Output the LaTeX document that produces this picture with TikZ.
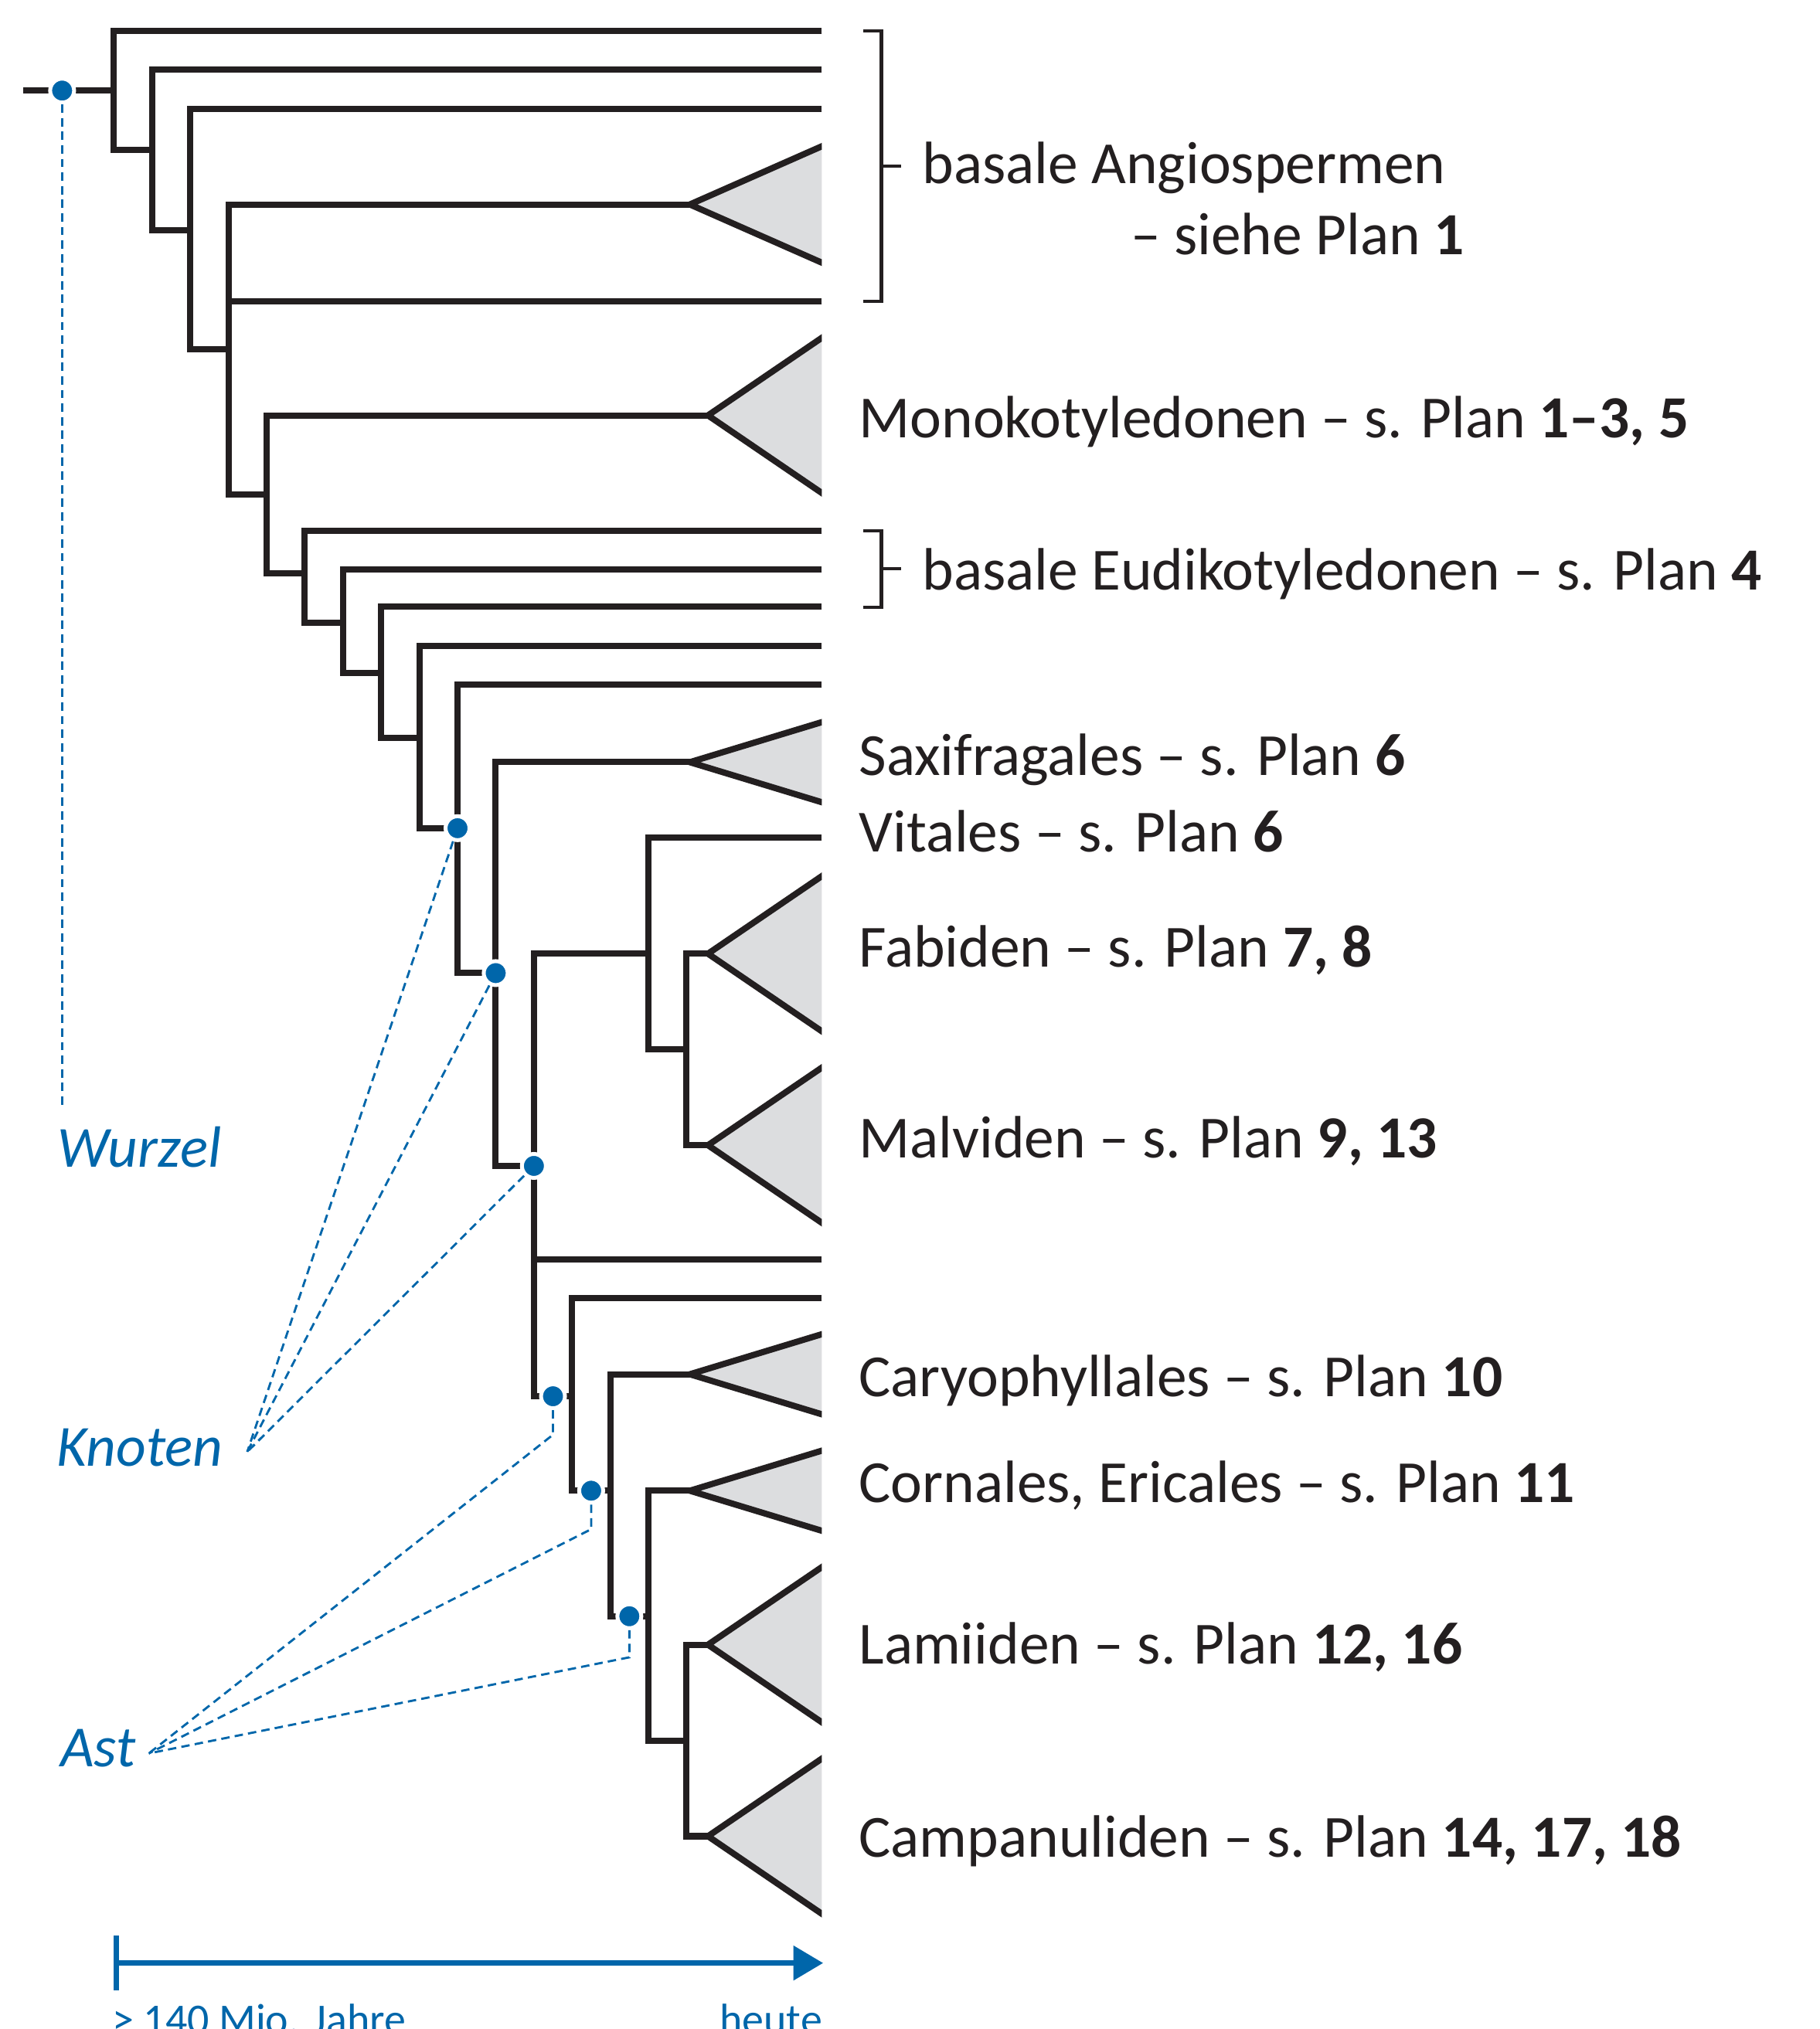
\documentclass[tikz,border=0pt]{standalone}
\usepackage{fontspec}
\setmainfont{Carlito}
\usepackage{tikz}
\usetikzlibrary{arrows.meta, calc, positioning}
\definecolor{treeink}{HTML}{231F20}
\definecolor{hintblue}{HTML}{0066AA}
\definecolor{cladegray}{HTML}{DCDDDF}

\begin{document}
\begin{tikzpicture}[
  x=0.1mm, y=-0.1mm,
  branch/.style={draw=treeink, line width=0.48mm, line join=miter},
  clade/.style={branch, fill=cladegray},
  dot/.style={circle, fill=hintblue, draw=white, line width=0.3mm,
              minimum size=1.85mm, inner sep=0pt},
  hint/.style={draw=hintblue, line width=0.17mm,
               dash pattern=on 0.65mm off 0.4mm},
  taxon/.style={anchor=base west, inner sep=0pt, text=treeink,
                font=\fontsize{13.15}{15}\selectfont},
  note/.style={anchor=base west, inner sep=0pt, text=hintblue,
               font=\fontsize{12.8}{15}\selectfont\itshape},
  brace/.style={draw=treeink, line width=0.25mm, line join=miter},
  timeline/.style={draw=hintblue, line width=0.42mm,
                   arrows={Bar[width=4.2mm]-Triangle[length=2.3mm, width=2.6mm]}},
  timetext/.style={inner sep=0pt, text=hintblue,
                   font=\fontsize{9.5}{11}\selectfont}
]
  \useasboundingbox (0,0) rectangle (1406,1568);

  % tips and apexes
  \coordinate (tRoot) at (18,70);
  \coordinate (tA1)   at (635,24);
  \coordinate (tA2)   at (635,54);
  \coordinate (tA3)   at (635,84);
  \coordinate (tA4)   at (533,158);
  \coordinate (tA5)   at (635,233);
  \coordinate (tMono) at (547,321);
  \coordinate (tE1)   at (635,410);
  \coordinate (tE2)   at (635,440);
  \coordinate (tE3)   at (635,469);
  \coordinate (tE4)   at (635,499);
  \coordinate (tE5)   at (635,529);
  \coordinate (tSaxi) at (533,589);
  \coordinate (tVit)  at (635,647);
  \coordinate (tFab)  at (547,737);
  \coordinate (tMal)  at (547,885);
  \coordinate (tC1)   at (635,973);
  \coordinate (tC2)   at (635,1003);
  \coordinate (tCary) at (533,1062);
  \coordinate (tCorn) at (533,1152);
  \coordinate (tLam)  at (547,1271);
  \coordinate (tCamp) at (547,1419);

  % knots (lower corners)
  \coordinate (k1)  at (88,116);
  \coordinate (k2)  at (117.5,178);
  \coordinate (k3)  at (147,270);
  \coordinate (k4)  at (176.5,382);
  \coordinate (k5)  at (206,443);
  \coordinate (k6)  at (235.5,481);
  \coordinate (k7)  at (265,520);
  \coordinate (k8)  at (294.5,570);
  \coordinate (k9)  at (324,640);
  \coordinate (k10) at (353.5,752);
  \coordinate (k11) at (383,901);
  \coordinate (k12) at (412.5,1079);
  \coordinate (k13) at (442,1152);
  \coordinate (k14) at (471.5,1249);
  \coordinate (k15) at (501,1345);
  \coordinate (k16) at (530.5,1419);
  \coordinate (kV)  at (501,811);
  \coordinate (kF)  at (530.5,885);

  \begin{scope}
    \clip (0,0) rectangle (635,1568);
    % clades
    \draw[clade] ($(tA4)+(112,-49.4)$)   -- (tA4)   -- ++(112,49.4);
    \draw[clade] ($(tMono)+(98,-66.8)$)  -- (tMono) -- ++(98,66.8);
    \draw[clade] ($(tSaxi)+(112,-34)$)   -- (tSaxi) -- ++(112,34);
    \draw[clade] ($(tFab)+(98,-66.8)$)   -- (tFab)  -- ++(98,66.8);
    \draw[clade] ($(tMal)+(98,-66.8)$)   -- (tMal)  -- ++(98,66.8);
    \draw[clade] ($(tCary)+(112,-34)$)   -- (tCary) -- ++(112,34);
    \draw[clade] ($(tCorn)+(112,-34)$)   -- (tCorn) -- ++(112,34);
    \draw[clade] ($(tLam)+(98,-66.8)$)   -- (tLam)  -- ++(98,66.8);
    \draw[clade] ($(tCamp)+(98,-66.8)$)  -- (tCamp) -- ++(98,66.8);

    % branches
    \draw[branch] (tRoot) -- (tRoot -| k1);
    \draw[branch] (tA1)   -| (k1)  -- (k1 -| k2);
    \draw[branch] (tA2)   -| (k2)  -- (k2 -| k3);
    \draw[branch] (tA3)   -| (k3)  -- (k3 -| k4);
    \draw[branch] (tA4)   -| (k4)  -- (k4 -| k5);
    \draw[branch] (tA5)   -- (tA5 -| k4);
    \draw[branch] (tMono) -| (k5)  -- (k5 -| k6);
    \draw[branch] (tE1)   -| (k6)  -- (k6 -| k7);
    \draw[branch] (tE2)   -| (k7)  -- (k7 -| k8);
    \draw[branch] (tE3)   -| (k8)  -- (k8 -| k9);
    \draw[branch] (tE4)   -| (k9)  -- (k9 -| k10);
    \draw[branch] (tE5)   -| (k10) -- (k10 -| k11);
    \draw[branch] (tSaxi) -| (k11) -- (k11 -| k12);
    \draw[branch] (tFab -| kV) -| (k12) -- (k12 -| k13);
    \draw[branch] (tC1)   -- (tC1 -| k12);
    \draw[branch] (tVit)  -| (kV)  -- (kV -| kF);
    \draw[branch] (tFab)  -| (kF)  -- (tMal);
    \draw[branch] (tC2)   -| (k13) -- (k13 -| k14);
    \draw[branch] (tCary) -| (k14) -- (k14 -| k15);
    \draw[branch] (tCorn) -| (k15) -- (k15 -| k16);
    \draw[branch] (tLam)  -| (k16) -- (tCamp);
  \end{scope}

  % brackets
  \coordinate (br1t) at (667,24);
  \coordinate (br1m) at (681,128.5);
  \coordinate (br1b) at (667,233);
  \coordinate (br2t) at (667,410);
  \coordinate (br2m) at (681,439.5);
  \coordinate (br2b) at (667,469.5);

  % taxa
  \node[taxon] (angio) at (712,142) {basale Angiospermen};
  \node[taxon, anchor=base east] (angioref) at (1132,197) {– siehe Plan \textbf{1}};
  \node[taxon] (mono) at (663,338) {Monokotyledonen – s. Plan \textbf{1–3, 5}};
  \node[taxon] (eudi) at (712,456) {basale Eudikotyledonen – s. Plan \textbf{4}};
  \node[taxon] (saxi) at (663,599) {Saxifragales – s. Plan \textbf{6}};
  \node[taxon] (vit)  at (663,658) {Vitales – s. Plan \textbf{6}};
  \node[taxon] (fab)  at (663,747) {Fabiden – s. Plan \textbf{7, 8}};
  \node[taxon] (mal)  at (663,895) {Malviden – s. Plan \textbf{9, 13}};
  \node[taxon] (cary) at (663,1079) {Caryophyllales – s. Plan \textbf{10}};
  \node[taxon] (corn) at (663,1161) {Cornales, Ericales – s. Plan \textbf{11}};
  \node[taxon] (lam)  at (663,1286) {Lamiiden – s. Plan \textbf{12, 16}};
  \node[taxon] (camp) at (663,1435) {Campanuliden – s. Plan \textbf{14, 17, 18}};

  \draw[brace] (br1t) -| (br1m) |- (br1b);
  \draw[brace, shorten >=1.6mm] (br1m) -- (br1m -| angio.west);
  \draw[brace] (br2t) -| (br2m) |- (br2b);
  \draw[brace, shorten >=1.6mm] (br2m) -- (br2m -| eudi.west);

  % dots
  \node[dot] (d0)  at (48,70) {};
  \node[dot] (kn1) at (k9 -| k10) {};
  \node[dot] (kn2) at (k10 -| k11) {};
  \node[dot] (kn3) at (k11 -| k12) {};
  \node[dot] (as1) at ($(k12)!0.5!(k12 -| k13)$) {};
  \node[dot] (as2) at ($(k13)!0.5!(k13 -| k14)$) {};
  \node[dot] (as3) at ($(k14)!0.5!(k14 -| k15)$) {};

  % notes
  \node[note] (wurzel) at (44,902)  {Wurzel};
  \node[note] (knoten) at (43,1133) {Knoten};
  \node[note] (ast)    at (46,1365) {Ast};
  \coordinate (wzEnd) at (48,857);
  \coordinate (knEnd) at (191,1122);
  \coordinate (asEnd) at (115,1355);

  \draw[hint] (d0)  -- (wzEnd);
  \draw[hint] (kn1) -- (knEnd);
  \draw[hint] (kn2) -- (knEnd);
  \draw[hint] (kn3) -- (knEnd);
  \draw[hint] (as1.south) -- ++(0,19) -- (asEnd);
  \draw[hint] (as2.south) -- ++(0,19) -- (asEnd);
  \draw[hint] (as3.south) -- ++(0,21) -- (asEnd);

  % time axis
  \coordinate (tl0) at (88,1517);
  \coordinate (tl1) at (636,1517);
  \draw[timeline] (tl0) -- (tl1);
  \node[timetext, anchor=base west] (tlfrom) at (86,1572) {> 140 Mio. Jahre};
  \node[timetext, anchor=base east] (tlto) at (636,1572) {heute};

\end{tikzpicture}
\end{document}
